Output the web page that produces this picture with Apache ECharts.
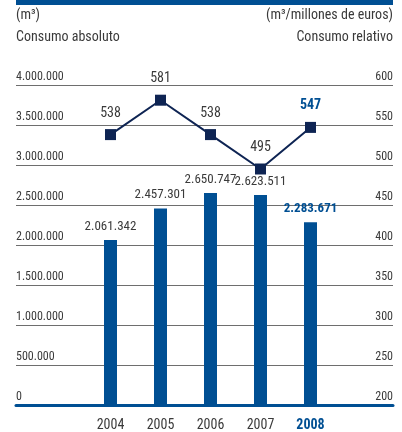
<!DOCTYPE html>
<html lang="es">
<head>
<meta charset="UTF-8">
<title>Consumo de agua</title>
<style>
  html, body { margin: 0; padding: 0; background: #fff; }
  #main { width: 402px; height: 432px; }
</style>
</head>
<body>
<div id="main"></div>
<script src="https://cdn.jsdelivr.net/npm/echarts@6/dist/echarts.min.js"></script>
<script>
var years = ['2004', '2005', '2006', '2007', '2008'];
var absoluto = [2061342, 2457301, 2650747, 2623511, 2283671];
var relativo = [538, 581, 538, 495, 547];
var leftTicks = [0, 4000000, 500000];   // min, max, interval
var rightTicks = [200, 600, 50];

var FONT = '"Roboto Condensed", "DejaVu Sans Condensed", sans-serif';
var BLUE = '#004f93';
var NAVY = '#0e2453';
var TEXT = '#3a3a3a';
var last = years.length - 1;

function puntos(v) {
    return String(v).replace(/\B(?=(\d{3})+(?!\d))/g, '.');
}

var myChart = echarts.init(document.getElementById('main'));

// el ultimo año va resaltado en azul y negrita
var barData = absoluto.map(function (v, i) {
    var item = { value: v };
    if (i === last) item.label = { color: BLUE, fontWeight: 'bold' };
    return item;
});
var lineData = relativo.map(function (v, i) {
    var item = { value: v };
    if (i === last) item.label = { color: BLUE, fontWeight: 'bold' };
    return item;
});
var yearData = years.map(function (y, i) {
    if (i === last) return { value: y, textStyle: { color: BLUE, fontWeight: 'bold' } };
    return y;
});

option = {
    animation: false,
    textStyle: { fontFamily: FONT },
    graphic: [
        { type: 'rect', left: 16, top: 0, shape: { width: 377, height: 5 }, style: { fill: BLUE } },
        { type: 'text', left: 16, top: 8, style: { text: '(m³)', font: '14px ' + FONT, fill: TEXT } },
        { type: 'text', left: 16, top: 30, style: { text: 'Consumo absoluto', font: '14px ' + FONT, fill: TEXT } },
        { type: 'text', right: 9, top: 8, style: { text: '(m³/millones de euros)', font: '14px ' + FONT, fill: TEXT } },
        { type: 'text', right: 9, top: 30, style: { text: 'Consumo relativo', font: '14px ' + FONT, fill: TEXT } }
    ],
    grid: [
        { left: 16, right: 9, top: 85, bottom: 27 },
        { left: 85.5, width: 250, top: 85, bottom: 27 }
    ],
    xAxis: [
        {
            gridIndex: 0, type: 'category', data: [''],
            axisLine: { lineStyle: { color: BLUE, width: 3 } },
            axisTick: { show: false }, axisLabel: { show: false }
        },
        {
            gridIndex: 1, type: 'category', data: yearData,
            axisLine: { show: false }, axisTick: { show: false },
            axisLabel: { fontSize: 14, color: TEXT, margin: 13, fontFamily: FONT }
        }
    ],
    yAxis: [
        {
            gridIndex: 0, type: 'value', position: 'left',
            min: leftTicks[0], max: leftTicks[1], interval: leftTicks[2],
            axisLine: { show: false }, axisTick: { show: false },
            splitLine: { lineStyle: { color: '#6e6e6e', width: 1 } },
            axisLabel: {
                inside: true, margin: 0, fontSize: 12, color: TEXT, fontFamily: FONT,
                verticalAlign: 'bottom', padding: [0, 0, 2, 0],
                formatter: function (v) { return puntos(v); }
            }
        },
        {
            gridIndex: 0, type: 'value', position: 'right',
            min: rightTicks[0], max: rightTicks[1], interval: rightTicks[2],
            axisLine: { show: false }, axisTick: { show: false },
            splitLine: { show: false },
            axisLabel: {
                inside: true, margin: 0, fontSize: 12, color: TEXT, fontFamily: FONT,
                verticalAlign: 'bottom', padding: [0, 0, 2, 0]
            }
        },
        {
            gridIndex: 1, type: 'value', show: false,
            min: leftTicks[0], max: leftTicks[1], interval: leftTicks[2]
        },
        {
            gridIndex: 1, type: 'value', show: false,
            min: rightTicks[0], max: rightTicks[1], interval: rightTicks[2]
        }
    ],
    series: [
        {
            name: 'Consumo absoluto',
            type: 'bar',
            xAxisIndex: 1, yAxisIndex: 2,
            barWidth: 13,
            itemStyle: { color: BLUE },
            label: {
                show: true, position: 'top', distance: 7,
                fontSize: 13, color: TEXT, fontFamily: FONT,
                formatter: function (p) { return puntos(p.value); }
            },
            data: barData
        },
        {
            name: 'Consumo relativo',
            type: 'line',
            xAxisIndex: 1, yAxisIndex: 3,
            symbol: 'rect', symbolSize: 11,
            lineStyle: { color: NAVY, width: 2 },
            itemStyle: { color: NAVY },
            label: {
                show: true, position: 'top', distance: 9,
                fontSize: 14, color: TEXT, fontFamily: FONT
            },
            data: lineData,
            z: 5
        }
    ]
};

myChart.setOption(option);
</script>
</body>
</html>
